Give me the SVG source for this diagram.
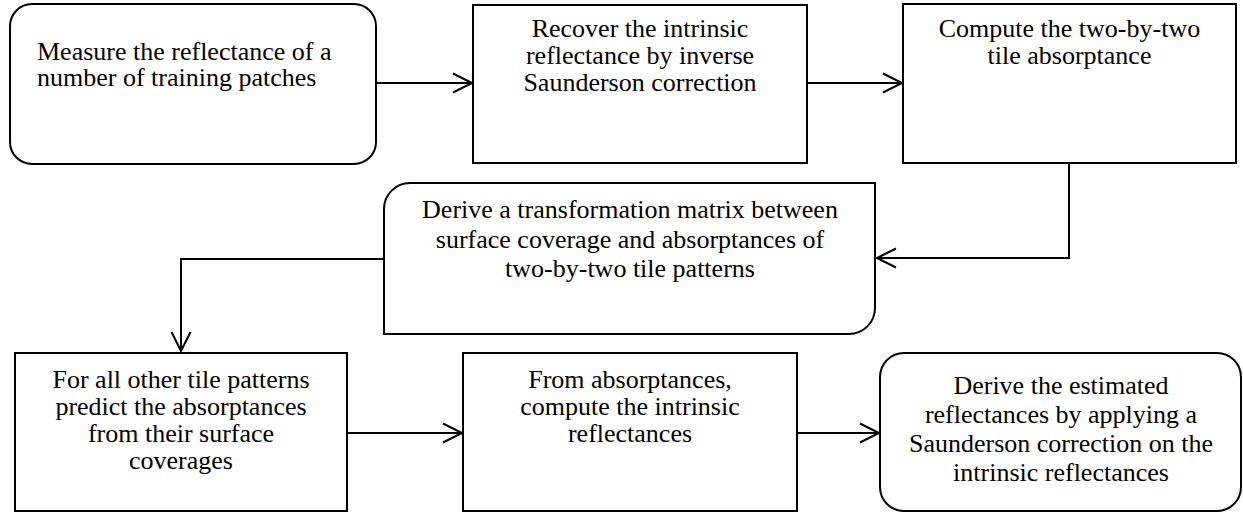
<svg xmlns="http://www.w3.org/2000/svg" width="1243" height="512" viewBox="0 0 1243 512">
<style>
.box{fill:#fff;stroke:#000;stroke-width:2}
.conn{fill:none;stroke:#000;stroke-width:2}
.t{font-family:'Liberation Serif',serif;font-size:26px;fill:#000}
.c{text-anchor:middle}
</style>
<defs>
<marker id="arr" markerUnits="userSpaceOnUse" markerWidth="24" markerHeight="24" viewBox="-21 -12 24 24" refX="0" refY="0" orient="auto">
<path d="M-19,-9.5 L0,0 L-19,9.5" fill="none" stroke="#000" stroke-width="2"/>
</marker>
</defs>
<rect width="1243" height="512" fill="#fff"/>
<g id="connectors">
<line class="conn" x1="376" y1="83" x2="472" y2="83" marker-end="url(#arr)"/>
<line class="conn" x1="807" y1="83" x2="902" y2="83" marker-end="url(#arr)"/>
<polyline class="conn" points="1069,163 1069,258 877,258" marker-end="url(#arr)"/>
<polyline class="conn" points="384,259 181,259 181,351" marker-end="url(#arr)"/>
<line class="conn" x1="347" y1="433" x2="462" y2="433" marker-end="url(#arr)"/>
<line class="conn" x1="797" y1="433" x2="879" y2="433" marker-end="url(#arr)"/>
</g>
<g id="node1" class="t" font-family="Liberation Serif, serif">
<rect class="box" x="10" y="4" width="366" height="160" rx="22"/>
<text x="37" y="59.5">Measure the reflectance of a</text>
<text x="37" y="86">number of training patches</text>
</g>
<g id="node2" class="t c" font-family="Liberation Serif, serif">
<rect class="box" x="473" y="5" width="334" height="158"/>
<text x="640" y="37">Recover the intrinsic</text>
<text x="640" y="64">reflectance by inverse</text>
<text x="640" y="91">Saunderson correction</text>
</g>
<g id="node3" class="t c" font-family="Liberation Serif, serif">
<rect class="box" x="903" y="4" width="333" height="159"/>
<text x="1069.5" y="37">Compute the two-by-two</text>
<text x="1069.5" y="64">tile absorptance</text>
</g>
<g id="node4" class="t c" font-family="Liberation Serif, serif">
<path class="box" d="M410,183 H875 V308 A26,26 0 0 1 849,334 H384 V209 A26,26 0 0 1 410,183 Z"/>
<text x="630" y="218">Derive a transformation matrix between</text>
<text x="630" y="248">surface coverage and absorptances of</text>
<text x="630" y="277">two-by-two tile patterns</text>
</g>
<g id="node5" class="t c" font-family="Liberation Serif, serif">
<rect class="box" x="15" y="353" width="332" height="158"/>
<text x="181" y="388">For all other tile patterns</text>
<text x="181" y="415">predict the absorptances</text>
<text x="181" y="442">from their surface</text>
<text x="181" y="469">coverages</text>
</g>
<g id="node6" class="t c" font-family="Liberation Serif, serif">
<rect class="box" x="463" y="353" width="334" height="158"/>
<text x="630" y="388">From absorptances,</text>
<text x="630" y="415">compute the intrinsic</text>
<text x="630" y="442">reflectances</text>
</g>
<g id="node7" class="t c" font-family="Liberation Serif, serif">
<rect class="box" x="880" y="353" width="361" height="158" rx="24"/>
<text x="1061" y="394">Derive the estimated</text>
<text x="1061" y="423">reflectances by applying a</text>
<text x="1061" y="452">Saunderson correction on the</text>
<text x="1061" y="481">intrinsic reflectances</text>
</g>
</svg>
